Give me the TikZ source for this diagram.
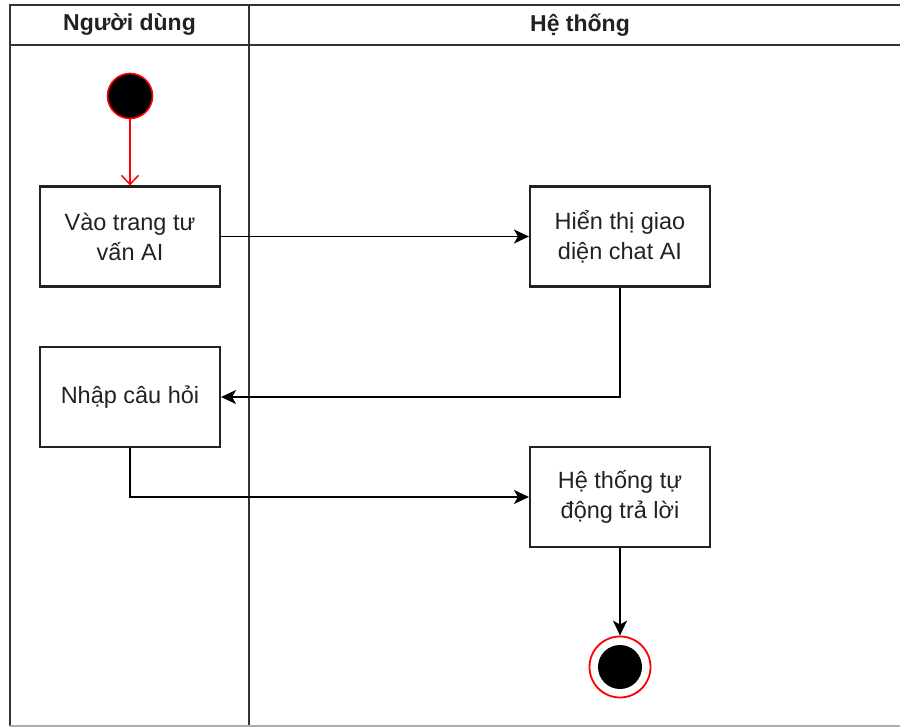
\documentclass[tikz,border=0pt]{standalone}
\usepackage{fontspec}
\setmainfont{Liberation Sans}
\usepackage{xcolor}
\usepackage{tikz}
\usetikzlibrary{arrows.meta}
\definecolor{lane}{HTML}{333333}
\definecolor{ink}{HTML}{222222}
\definecolor{startred}{HTML}{FF0000}
\tikzset{
  laneEdge/.style={draw=lane, line width=2.3pt},
  laneHead/.style={font=\fontsize{23}{27}\selectfont\bfseries, text=ink},
  actBox/.style={draw=ink, line width=2.1pt, minimum width=180pt, minimum height=100pt,
    align=center, inner sep=0pt, font=\fontsize{23.5}{30}\selectfont, text=ink},
  flow/.style={draw=black, line width=1.7pt, -{Stealth[length=15pt,width=14pt,inset=4pt]}},
  startFlow/.style={draw=startred, line width=1.5pt, -{Straight Barb[length=9pt,width=17pt]}},
  startDot/.style={circle, fill=black, draw=startred, line width=1.6pt, minimum size=45pt, inner sep=0pt},
  endRing/.style={circle, draw=startred, line width=1.8pt, minimum size=61pt, inner sep=0pt},
  endDot/.style={circle, fill=black, minimum size=44pt, inner sep=0pt},
}

\begin{document}
\begin{tikzpicture}[x=1pt, y=-1pt]
  \useasboundingbox (0,0) rectangle (900,727);
  \fill[white] (0,0) rectangle (900,727);

  % swimlanes
  \draw[laneEdge] (10,726) -- (10,5) -- (912,5);
  \draw[laneEdge] (10,45) -- (912,45);
  \draw[laneEdge] (249,5) -- (249,726);
  \draw[draw=lane!40, line width=2pt] (10,726) -- (912,726);
  \node[laneHead] (userHead) at (129.5,25) {Người dùng};
  \node[laneHead] (sysHead)  at (580,25)   {Hệ thống};

  % actions
  \node[startDot] (start) at (130,96) {};
  \node[actBox] (visit)  at (130,236.5) {Vào trang tư\\vấn AI};
  \node[actBox] (show)   at (620,236.5) {Hiển thị giao\\diện chat AI};
  \node[actBox] (ask)    at (130,397)   {Nhập câu hỏi};
  \node[actBox] (answer) at (620,497)   {Hệ thống tự\\động trả lời};
  \node[endRing] (finish) at (620,667) {};
  \node[endDot] (finishDot) at (finish.center) {};

  % flows
  \draw[startFlow] (start) -- (visit);
  \draw[flow] (visit) -- (show);
  \draw[flow] (show.south) |- (ask.east);
  \draw[flow] (ask.south) |- (answer.west);
  \draw[flow] (answer) -- (finish);
\end{tikzpicture}
\end{document}
